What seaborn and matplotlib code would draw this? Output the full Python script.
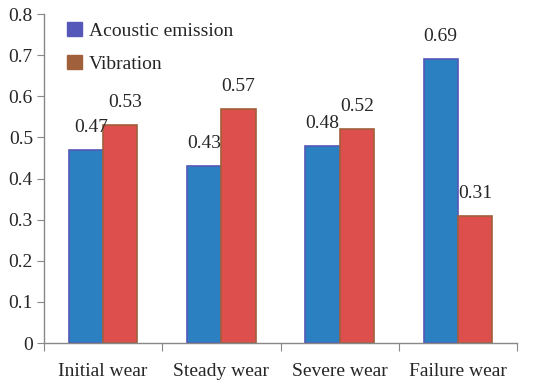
import pandas as pd
import matplotlib.pyplot as plt
import seaborn as sns
from matplotlib.patches import Patch

# Chart values
stages = ['Initial wear', 'Steady wear', 'Severe wear', 'Failure wear']
acoustic = [0.47, 0.43, 0.48, 0.69]
vibration = [0.53, 0.57, 0.52, 0.31]
series_names = ['Acoustic emission', 'Vibration']

df = pd.DataFrame({
    'Stage': stages * 2,
    'Value': acoustic + vibration,
    'Signal': [series_names[0]] * 4 + [series_names[1]] * 4,
})

sns.set_style('white')
plt.rcParams['font.family'] = 'serif'
plt.rcParams['font.serif'] = ['Liberation Serif', 'DejaVu Serif']

fig = plt.figure(figsize=(5.5, 3.89), dpi=100)
ax = fig.add_axes([0.08, 0.118, 0.86, 0.846])

fills = ['#2a80c0', '#dc4f4c']
edges = ['#5558b8', '#a0603c']
sns.barplot(data=df, x='Stage', y='Value', hue='Signal', palette=fills,
            width=0.58, gap=0, ax=ax, legend=False, saturation=1)

for cont, ec in zip(ax.containers, edges):
    for bar in cont:
        bar.set_edgecolor(ec)
        bar.set_linewidth(1.2)

# value labels (first group is nudged right in the original)
for cont, vals in zip(ax.containers, [acoustic, vibration]):
    for i, (bar, v) in enumerate(zip(cont, vals)):
        dx = 3.5 if i == 0 else 0
        ax.annotate(f'{v:.2f}', (bar.get_x() + bar.get_width() / 2, bar.get_height()),
                    xytext=(dx, 10), textcoords='offset points', ha='center', va='bottom',
                    fontsize=14)

# legend
handles = [Patch(facecolor=c, edgecolor=c, label=n) for n, c in zip(series_names, edges)]
ax.legend(handles=handles, loc='upper left', bbox_to_anchor=(0.012, 1.03), frameon=False,
          fontsize=14, handlelength=0.75, handleheight=0.75, handletextpad=0.35, labelspacing=0.8)

ax.set_ylim(0, 0.8)
ax.set_yticks([i / 10 for i in range(9)])
ax.set_yticklabels(['0'] + [f'{i / 10:.1f}' for i in range(1, 9)], fontsize=14)
ax.set_xlim(-0.5, 3.5)
ax.set_xticks([-0.5, 0.5, 1.5, 2.5, 3.5])
ax.set_xticklabels([])
ax.set_xticks(range(4), minor=True)
ax.set_xticklabels(stages, minor=True, fontsize=14)
ax.tick_params(axis='x', which='minor', length=0, pad=14)
ax.tick_params(axis='x', which='major', length=6, color='#888888', direction='out', bottom=True)
ax.tick_params(axis='y', length=5, color='#888888', direction='out', left=True, pad=3)
ax.set_xlabel('')
ax.set_ylabel('')
sns.despine(ax=ax)
for s in ['left', 'bottom']:
    ax.spines[s].set_color('#888888')
    ax.spines[s].set_linewidth(1)

fig.savefig('out.png', dpi=100)
